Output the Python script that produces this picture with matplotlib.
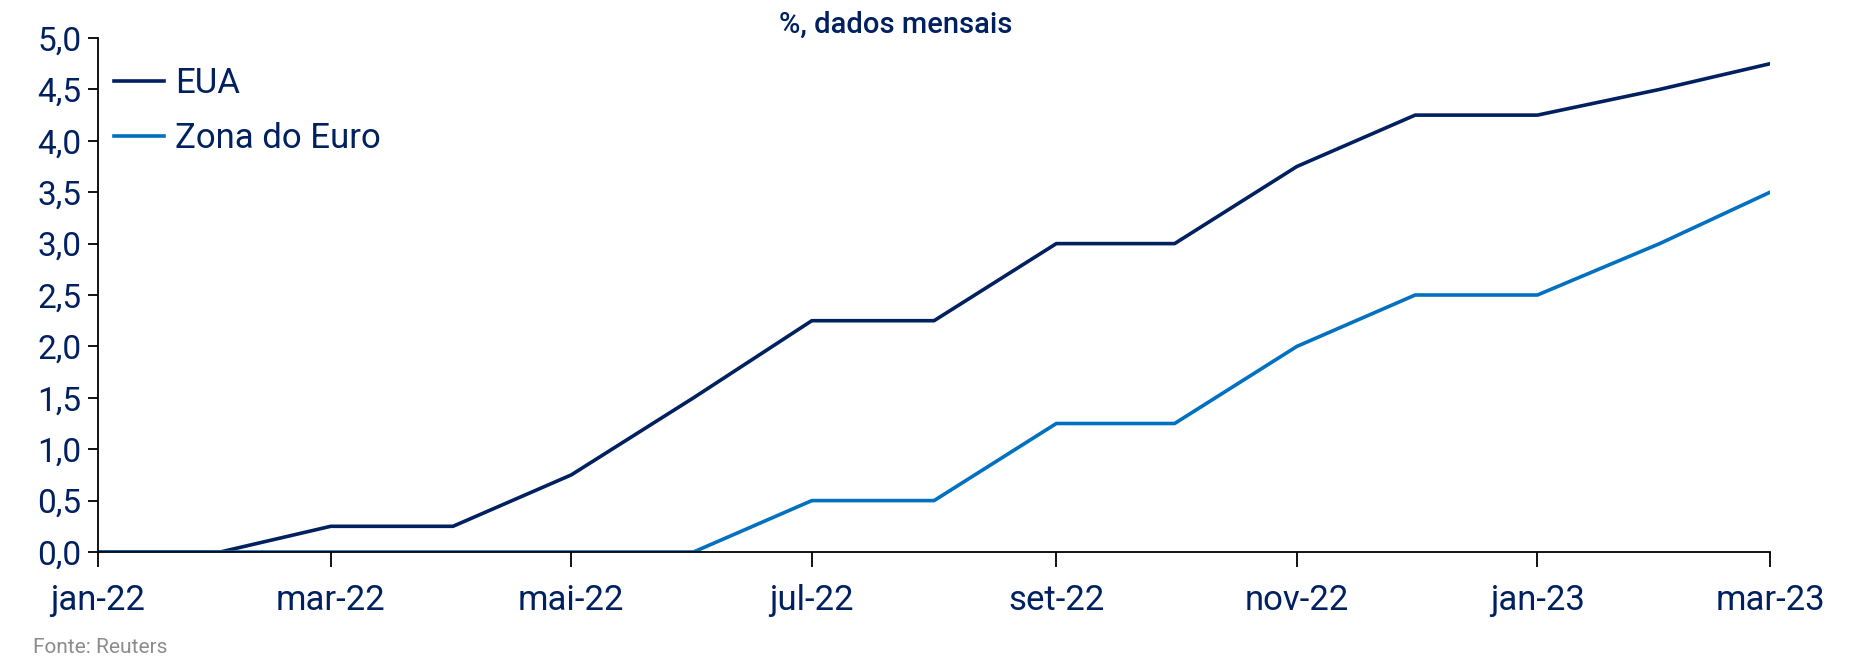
import pandas as pd
import matplotlib
matplotlib.use("Agg")
import matplotlib.pyplot as plt
import matplotlib.dates as mdates
from matplotlib.ticker import FuncFormatter

# monthly policy rates (%), upper bound for the Fed, deposit rate for ECB
months = pd.date_range("2022-01-01", "2023-03-01", freq="MS")
eua = [0, 0, 0.25, 0.25, 0.75, 1.5, 2.25, 2.25, 3.0, 3.0, 3.75, 4.25, 4.25, 4.5, 4.75]
zona_euro = [0, 0, 0, 0, 0, 0, 0.5, 0.5, 1.25, 1.25, 2.0, 2.5, 2.5, 3.0, 3.5]

navy = "#002060"
blue = "#0070c0"
pt_months = ["jan", "fev", "mar", "abr", "mai", "jun", "jul", "ago", "set", "out", "nov", "dez"]

plt.rcParams['font.family'] = ['Roboto', 'DejaVu Sans']

fig = plt.figure(figsize=(18.57, 6.61), dpi=100)
ax = fig.add_axes([0.0528, 0.1649, 0.9004, 0.7776])

ax.plot(months, eua, color=navy, lw=2.6, label="EUA", solid_joinstyle="round")
ax.plot(months, zona_euro, color=blue, lw=2.6, label="Zona do Euro", solid_joinstyle="round")

ax.set_xlim(months[0], months[-1])
ax.set_ylim(0, 5)
ax.set_yticks([i * 0.5 for i in range(11)])
ax.yaxis.set_major_formatter(FuncFormatter(lambda v, p: f"{v:.1f}".replace(".", ",")))

ax.xaxis.set_major_locator(mdates.MonthLocator(bymonth=[1, 3, 5, 7, 9, 11]))
ax.xaxis.set_major_formatter(FuncFormatter(
    lambda v, p: f"{pt_months[mdates.num2date(v).month - 1]}-{mdates.num2date(v).year % 100:02d}"))

for s in ["top", "right"]:
    ax.spines[s].set_visible(False)
for s in ["left", "bottom"]:
    ax.spines[s].set_linewidth(1.3)
    ax.spines[s].set_color("black")

ax.tick_params(axis="y", length=7, width=1.3, labelsize=24, labelcolor=navy, pad=5)
ax.tick_params(axis="x", length=11, width=1.3, labelsize=25, labelcolor=navy, pad=12)

leg = ax.legend(loc="upper left", bbox_to_anchor=(-0.005, 0.99), frameon=False, fontsize=25,
                handlelength=1.45, handletextpad=0.3, labelspacing=0.62, borderaxespad=0.3)
for t in leg.get_texts():
    t.set_color(navy)

fig.text(0.4825, 0.962, "%, dados mensais", ha="center", va="center", fontsize=21,
         color=navy, fontweight="medium")
fig.text(0.018, 0.02, "Fonte: Reuters", ha="left", va="center", fontsize=15, color="#8c8c8c")

fig.savefig("out.png", dpi=100)
